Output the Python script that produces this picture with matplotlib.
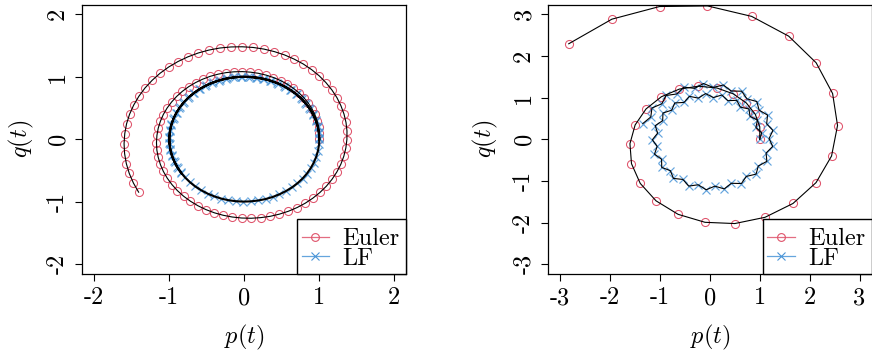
import matplotlib
matplotlib.use('Agg')
import matplotlib.pyplot as plt
from matplotlib.patches import Rectangle
from matplotlib.lines import Line2D

plt.rcParams['mathtext.fontset'] = 'cm'
plt.rcParams['axes.unicode_minus'] = False

# ---------------- data ----------------
euler_left_p = [1.000, 1.000, 0.990, 0.970, 0.940, 0.901, 0.852, 0.794, 0.727, 0.653,
                0.571, 0.483, 0.389, 0.290, 0.187, 0.082, -0.026, -0.134, -0.242, -0.349,
                -0.453, -0.554, -0.650, -0.741, -0.825, -0.902, -0.970, -1.030, -1.080, -1.119,
                -1.148, -1.165, -1.171, -1.166, -1.148, -1.119, -1.079, -1.027, -0.965, -0.892,
                -0.810, -0.718, -0.619, -0.512, -0.400, -0.282, -0.160, -0.035, 0.091, 0.218,
                0.344, 0.467, 0.587, 0.703, 0.812, 0.915, 1.009, 1.095, 1.170, 1.234,
                1.287, 1.327, 1.354, 1.368, 1.369, 1.356, 1.329, 1.288, 1.235, 1.168,
                1.089, 0.999, 0.897, 0.786, 0.665, 0.537, 0.402, 0.261, 0.117, -0.030,
                -0.178, -0.326, -0.472, -0.615, -0.753, -0.885, -1.009, -1.125, -1.230, -1.325,
                -1.406, -1.475, -1.530, -1.570, -1.594, -1.603, -1.596, -1.573, -1.534, -1.479,
                -1.409]
euler_left_q = [0.000, 0.100, 0.200, 0.299, 0.396, 0.490, 0.580, 0.665, 0.745, 0.817,
                0.883, 0.940, 0.988, 1.027, 1.056, 1.074, 1.083, 1.080, 1.067, 1.042,
                1.008, 0.962, 0.907, 0.842, 0.768, 0.685, 0.595, 0.498, 0.395, 0.287,
                0.175, 0.060, -0.056, -0.173, -0.290, -0.405, -0.517, -0.625, -0.727, -0.824,
                -0.913, -0.994, -1.066, -1.128, -1.179, -1.219, -1.247, -1.263, -1.267, -1.257,
                -1.236, -1.201, -1.155, -1.096, -1.026, -0.944, -0.853, -0.752, -0.642, -0.525,
                -0.402, -0.273, -0.141, -0.005, 0.132, 0.269, 0.404, 0.537, 0.666, 0.789,
                0.906, 1.015, 1.115, 1.205, 1.283, 1.350, 1.403, 1.444, 1.470, 1.481,
                1.478, 1.461, 1.428, 1.381, 1.319, 1.244, 1.156, 1.055, 0.942, 0.819,
                0.687, 0.546, 0.399, 0.246, 0.089, -0.071, -0.231, -0.391, -0.548, -0.701,
                -0.849]
lf_left_p = [1.000, 0.995, 0.980, 0.955, 0.921, 0.878, 0.825, 0.765, 0.697, 0.622,
             0.540, 0.454, 0.362, 0.267, 0.170, 0.071, -0.029, -0.129, -0.227, -0.323,
             -0.416, -0.505, -0.589, -0.666, -0.737, -0.801, -0.857, -0.904, -0.942, -0.971,
             -0.990, -0.999, -0.998, -0.987, -0.967, -0.936, -0.897, -0.848, -0.791, -0.726,
             -0.654, -0.575, -0.490, -0.401, -0.307, -0.211, -0.112, -0.012, 0.087, 0.187,
             0.284, 0.378, 0.469, 0.554, 0.635, 0.709, 0.776, 0.835, 0.885, 0.927,
             0.960, 0.983, 0.997, 1.000, 0.993, 0.977, 0.950, 0.914, 0.869, 0.816,
             0.754, 0.685, 0.608, 0.526, 0.439, 0.347, 0.251, 0.153, 0.054, -0.046,
             -0.146, -0.244, -0.340, -0.432, -0.519, -0.601, -0.679, -0.749, -0.811, -0.866,
             -0.911, -0.947, -0.974, -0.992, -1.000, -0.997, -0.985, -0.962, -0.930, -0.889,
             -0.839]
lf_left_q = [0.000, 0.100, 0.199, 0.296, 0.389, 0.479, 0.565, 0.644, 0.717, 0.783,
             0.841, 0.891, 0.932, 0.964, 0.985, 0.997, 1.000, 0.992, 0.974, 0.946,
             0.909, 0.863, 0.808, 0.746, 0.675, 0.598, 0.516, 0.427, 0.335, 0.239,
             0.141, 0.042, -0.058, -0.158, -0.256, -0.351, -0.443, -0.530, -0.612, -0.688,
             -0.757, -0.818, -0.872, -0.916, -0.952, -0.978, -0.994, -1.000, -0.996, -0.982,
             -0.959, -0.926, -0.883, -0.832, -0.773, -0.706, -0.631, -0.551, -0.465, -0.374,
             -0.279, -0.182, -0.083, 0.017, 0.117, 0.215, 0.311, 0.405, 0.494, 0.578,
             0.657, 0.729, 0.794, 0.851, 0.899, 0.938, 0.968, 0.988, 0.999, 0.999,
             0.989, 0.970, 0.940, 0.902, 0.855, 0.799, 0.734, 0.663, 0.585, 0.500,
             0.412, 0.321, 0.227, 0.124, 0.025, -0.075, -0.174, -0.274, -0.367, -0.458,
             -0.544]

euler_right_p = [1.000, 1.000, 0.910, 0.730, 0.468, 0.141, -0.229, -0.612, -0.973, -1.280,
                 -1.499, -1.603, -1.572, -1.397, -1.080, -0.637, -0.098, 0.499, 1.105, 1.666,
                 2.128, 2.439, 2.559, 2.460, 2.130, 1.579, 0.836, -0.049, -1.010, -1.965,
                 -2.830]
euler_right_q = [0.000, 0.300, 0.600, 0.873, 1.092, 1.232, 1.275, 1.206, 1.022, 0.730,
                 0.346, -0.104, -0.584, -1.056, -1.475, -1.799, -1.990, -2.020, -1.870, -1.538,
                 -1.038, -0.400, 0.332, 1.100, 1.837, 2.476, 2.950, 3.201, 3.186, 2.883,
                 2.293]
lf_right_p = [1.000, 1.038, 0.922, 0.954, 0.805, 0.783, 0.612, 0.537, 0.361, 0.239,
              0.071, -0.087, -0.231, -0.411, -0.518, -0.705, -0.765, -0.941, -0.947, -1.096,
              -1.048, -1.154, -1.057, -1.111, -0.969, -0.966, -0.793, -0.731, -0.541, -0.425,
              -0.235, -0.075, 0.099, 0.288, 0.430, 0.632, 0.730, 0.926, 0.970, 1.142,
              1.127, 1.259, 1.186, 1.264, 1.138, 1.156, 0.987, 0.941, 0.744, 0.637,
              0.428, 0.270, 0.067, -0.129, -0.307, -0.524, -0.662, -0.879, -0.964, -1.162,
              -1.185, -1.345]
lf_right_q = [0.000, 0.157, 0.285, 0.461, 0.550, 0.729, 0.772, 0.937, 0.927, 1.064,
              1.003, 1.098, 0.989, 1.032, 0.886, 0.873, 0.700, 0.632, 0.448, 0.329,
              0.149, -0.010, -0.169, -0.354, -0.478, -0.673, -0.751, -0.937, -0.962, -1.121,
              -1.090, -1.209, -1.123, -1.188, -1.054, -1.060, -0.889, -0.834, -0.640, -0.528,
              -0.328, -0.169, 0.020, 0.213, 0.373, 0.582, 0.700, 0.907, 0.971, 1.155,
              1.159, 1.304, 1.246, 1.339, 1.223, 1.253, 1.089, 1.052, 0.853, 0.752,
              0.537, 0.379]

left_ticks = [-2, -1, 0, 1, 2]
left_tick_labels = ['-2', '-1', '0', '1', '2']
right_ticks = [-3, -2, -1, 0, 1, 2, 3]
right_tick_labels = ['-3', '-2', '-1', '0', '1', '2', '3']
legend_labels = ['Euler', 'LF']
x_label = '$p(t)$'
y_label = '$q(t)$'

# ---------------- style ----------------
RED = '#DF536B'
BLUE = '#4A95D8'
FS = 17.5
TF = 'cmr10'
W, H = 872, 354

fig = plt.figure(figsize=(W / 100, H / 100), dpi=100)


def px_axes(x0, x1, y0, y1):
    return fig.add_axes([x0 / W, 1 - y1 / H, (x1 - x0) / W, (y1 - y0) / H])


def panel(ax, ep, eq, lp, lq, xlim, ylim, ticks, tlabels, lf_lw):
    ax.plot(ep, eq, ls='none', marker='o', ms=5.8, mfc='none', mec=RED, mew=0.75, zorder=2)
    ax.plot(lp, lq, ls='none', marker='x', ms=5.6, mec=BLUE, mew=0.85, alpha=0.85, zorder=2)
    ax.plot(ep, eq, color='black', lw=0.8, zorder=3)
    ax.plot(lp, lq, color='black', lw=lf_lw, zorder=3)
    ax.set_xlim(*xlim)
    ax.set_ylim(*ylim)
    ax.set_xticks(ticks)
    ax.set_xticklabels(tlabels, fontfamily=TF, fontsize=FS)
    ax.set_yticks(ticks)
    ax.set_yticklabels(tlabels, fontfamily=TF, fontsize=FS, rotation=90, va='center')
    ax.tick_params(direction='out', length=5, width=0.8, color='black', pad=4.5)
    for s in ax.spines.values():
        s.set_linewidth(0.9)
        s.set_color('black')

    # legend (drawn manually to match the compact R layout)
    t = ax.transAxes
    ax.add_patch(Rectangle((0.664, 0.0), 0.336, 0.203, transform=t, facecolor='white',
                           edgecolor='black', lw=1.0, zorder=5, clip_on=False))
    rows = [(0.136, 0.1077, RED, 'o', legend_labels[0]),
            (0.0668, 0.0334, BLUE, 'x', legend_labels[1])]
    for ly, by, col, mk, lab in rows:
        ax.add_line(Line2D([0.678, 0.763], [ly, ly], transform=t, color=col, lw=0.9,
                           alpha=0.85, zorder=6))
        ax.add_line(Line2D([0.7205], [ly], transform=t, ls='none', marker=mk, ms=5.6,
                           mfc='none', mec=col, mew=0.8, zorder=6))
        ax.text(0.803, by, lab, transform=t, fontfamily=TF, fontsize=FS,
                ha='left', va='baseline', zorder=7)


axL = px_axes(82.3, 405.7, 4.7, 274.0)
axR = px_axes(548.3, 871.5, 4.7, 274.0)

panel(axL, euler_left_p, euler_left_q, lf_left_p, lf_left_q,
      (-2.16, 2.152), (-2.16, 2.155), left_ticks, left_tick_labels, 1.5)
panel(axR, euler_right_p, euler_right_q, lf_right_p, lf_right_q,
      (-3.24, 3.24), (-3.23, 3.23), right_ticks, right_tick_labels, 0.8)

# axis labels
for cx in [(82.3 + 405.7) / 2, (548.3 + 871.5) / 2]:
    fig.text(cx / W, 1 - 337 / H, x_label, fontsize=FS, ha='center', va='center')
for cx in [21, 485]:
    fig.text(cx / W, 1 - 139.3 / H, y_label, fontsize=FS, ha='center', va='center', rotation=90)

fig.savefig('out.png', dpi=100)
